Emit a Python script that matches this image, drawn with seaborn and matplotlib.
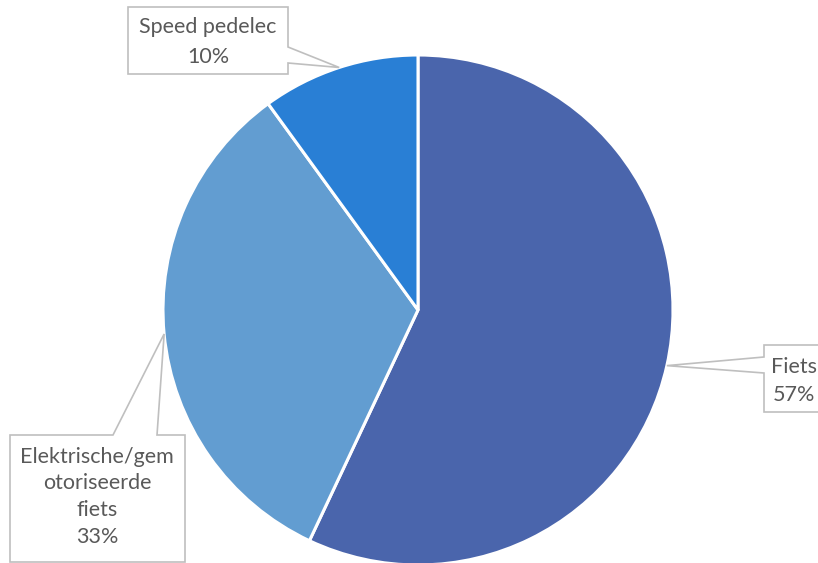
import numpy as np
import matplotlib
matplotlib.use("Agg")
import matplotlib.pyplot as plt
from matplotlib.patches import Polygon
import seaborn as sns

# data
labels = ["Fiets", "Elektrische/gem\notoriseerde\nfiets", "Speed pedelec"]
values = [57, 33, 10]
colors = ["#4A65AC", "#629DD1", "#297FD5"]

sns.set_theme(style="white")
plt.rcParams["font.family"] = ["Lato", "DejaVu Sans"]

W, H = 818, 563
fig = plt.figure(figsize=(W / 100, H / 100), dpi=100)
ax = fig.add_axes([0, 0, 1, 1])

cx, cy, r = 418, H - 310, 255
wedges, _ = ax.pie(values, colors=colors, startangle=90, counterclock=False,
                   center=(cx, cy), radius=r,
                   wedgeprops=dict(edgecolor="white", linewidth=2.2))
ax.set_xlim(0, W)
ax.set_ylim(0, H)
ax.axis("off")

# callout boxes (pixel coords from top): box, side of pointer, pointer base, text centre
callouts = [
    dict(box=(764, 345, 860, 412), side="left", base=(357, 373), tx=794, ty=(367, 395)),
    dict(box=(10, 435, 185, 562), side="top", base=(113, 157), tx=97, ty=(457, 483, 510, 537)),
    dict(box=(128, 7, 288, 74), side="right", base=(47, 63), tx=208, ty=(27, 57)),
]

for w, lab, v, c in zip(wedges, labels, values, callouts):
    mid = np.deg2rad((w.theta1 + w.theta2) / 2)
    tip = (cx + r * np.cos(mid), cy + r * np.sin(mid))
    x0, y0, x1, y1 = c["box"]
    y0, y1 = H - y0, H - y1
    b1, b2 = c["base"]
    if c["side"] == "left":
        pts = [(x0, y0), (x1, y0), (x1, y1), (x0, y1), (x0, H - b2), tip, (x0, H - b1)]
    elif c["side"] == "right":
        pts = [(x0, y0), (x1, y0), (x1, H - b1), tip, (x1, H - b2), (x1, y1), (x0, y1)]
    else:
        pts = [(x0, y0), (b1, y0), tip, (b2, y0), (x1, y0), (x1, y1), (x0, y1)]
    ax.add_patch(Polygon(pts, closed=True, facecolor="white", edgecolor="#BFBFBF",
                         linewidth=1.2, zorder=3))
    lines = lab.split("\n") + [f"{v}%"]
    for line, ty in zip(lines, c["ty"]):
        ax.text(c["tx"], H - ty, line, ha="center", va="center", fontsize=15.5,
                color="#595959", zorder=4)

fig.savefig("out.png", dpi=100)
